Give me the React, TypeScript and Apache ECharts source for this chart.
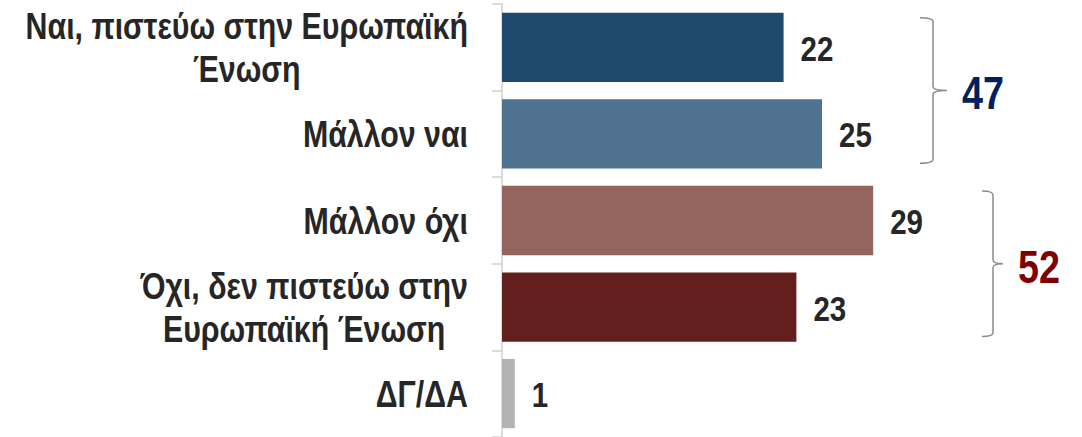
import React, { useEffect, useRef } from "react";
import * as echarts from "echarts";

const categories = [
  "Ναι, πιστεύω στην Ευρωπαϊκή\nΈνωση",
  "Μάλλον ναι",
  "Μάλλον όχι",
  "Όχι, δεν πιστεύω στην\nΕυρωπαϊκή Ένωση",
  "ΔΓ/ΔΑ",
];
const values = [22, 25, 29, 23, 1];
const barColors = ["#1F4A6D", "#4E7290", "#94655F", "#631F1D", "#B3B3B3"];
const groupTotals = [47, 52];
const groupColors = ["#002060", "#7F0000"];

const FONT = "'Liberation Sans', Arial, sans-serif";
const NARROW = 0.82;
const LABEL_SIZE = 37;

function bracePath(x0: number, x1: number, x2: number, y0: number, y1: number) {
  const ym = (y0 + y1) / 2;
  const r = 4;
  return `M ${x0} ${y0} Q ${x1} ${y0} ${x1} ${y0 + r} L ${x1} ${ym - r} Q ${x1} ${ym} ${x2} ${ym} Q ${x1} ${ym} ${x1} ${ym + r} L ${x1} ${y1 - r} Q ${x1} ${y1} ${x0} ${y1}`;
}

function measure(text: string, font: string) {
  const ctx = document.createElement("canvas").getContext("2d")!;
  ctx.font = font;
  return Math.max(...text.split("\n").map((t) => ctx.measureText(t).width));
}

export default function App() {
  const ref = useRef<HTMLDivElement>(null);
  useEffect(() => {
    document.body.style.margin = "0";
    const chart = echarts.init(ref.current!, undefined, { renderer: "svg" });
    chart.setOption({
      animation: false,
      grid: { left: 502, right: 4, top: 4, bottom: 0, containLabel: false, outerBoundsMode: "none" },
      xAxis: { type: "value", min: 0, max: 45, show: false },
      yAxis: {
        type: "category",
        inverse: true,
        data: categories,
        axisLine: { show: true, lineStyle: { color: "#D0D0D0", width: 1.5 } },
        axisTick: { show: true, length: 10, lineStyle: { color: "#D0D0D0", width: 1.5 } },
        axisLabel: { show: false },
      },
      series: [
        {
          type: "bar",
          data: values.map((v, i) => ({ value: v, itemStyle: { color: barColors[i] } })),
          barCategoryGap: "20%",
          label: { show: false },
        },
      ],
    });

    const yc = (i: number) => chart.convertToPixel({ yAxisIndex: 0 }, i) as number;
    const xv = (v: number) => chart.convertToPixel({ xAxisIndex: 0 }, v) as number;
    const band = yc(1) - yc(0);
    const graphics: any[] = [];

    // category labels (narrow bold), block right-aligned, lines centred
    const labelRight = xv(0) - 34;
    categories.forEach((c, i) => {
      const w = measure(c, `bold ${LABEL_SIZE}px ${FONT}`) * NARROW;
      graphics.push({
        type: "text",
        x: labelRight - w / 2,
        y: yc(i),
        scaleX: NARROW,
        style: {
          text: c,
          align: "center",
          verticalAlign: "middle",
          fontFamily: FONT,
          fontWeight: "bold",
          fontSize: LABEL_SIZE,
          lineHeight: 43,
          fill: "#262626",
        },
      });
    });

    // value labels
    values.forEach((v, i) => {
      graphics.push({
        type: "text",
        x: xv(v) + 17,
        y: yc(i) + 1,
        scaleX: NARROW,
        style: {
          text: String(v),
          align: "left",
          verticalAlign: "middle",
          fontFamily: FONT,
          fontWeight: "bold",
          fontSize: 36,
          fill: "#262626",
        },
      });
    });

    const groups = [
      { a: 0, b: 1, x0: 920, x1: 933, x2: 947, tx: 962 },
      { a: 2, b: 3, x0: 982, x1: 993, x2: 1003, tx: 1018 },
    ];
    groups.forEach((g, gi) => {
      const y0 = yc(g.a) - band * 0.34;
      const y1 = yc(g.b) + band * 0.34;
      const name = "brace" + gi;
      echarts.graphic.registerShape(name, echarts.graphic.extendPath(bracePath(g.x0, g.x1, g.x2, y0, y1), {}) as any);
      graphics.push({
        type: name,
        x: 0,
        y: 0,
        style: { fill: "none", stroke: "#8C8C8C", lineWidth: 1.5 },
      });
      graphics.push({
        type: "text",
        x: g.tx,
        y: (y0 + y1) / 2 + 3,
        scaleX: NARROW,
        style: {
          text: String(groupTotals[gi]),
          align: "left",
          verticalAlign: "middle",
          fontFamily: FONT,
          fontWeight: "bold",
          fontSize: 46,
          fill: groupColors[gi],
        },
      });
    });
    chart.setOption({ graphic: graphics });
    return () => chart.dispose();
  }, []);
  return <div ref={ref} style={{ width: 1082, height: 437 }} />;
}
